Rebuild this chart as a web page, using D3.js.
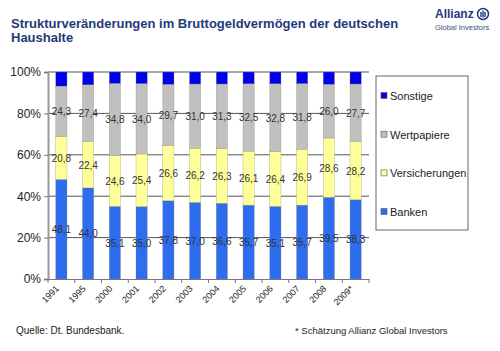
<!DOCTYPE html>
<html>
<head>
<meta charset="utf-8">
<script src="https://cdn.jsdelivr.net/npm/d3@7"></script>
<style>
  body { margin: 0; background: #fff; }
  svg { display: block; font-family: Arial, "Liberation Sans", sans-serif; }
</style>
</head>
<body>
<div id="chart"></div>
<script>
const years = ["1991", "1995", "2000", "2001", "2002", "2003", "2004", "2005", "2006", "2007", "2008", "2009*"];
const banken = [48.1, 44.0, 35.1, 35.0, 37.8, 37.0, 36.6, 35.7, 35.1, 35.7, 39.5, 38.3];
const versicherungen = [20.8, 22.4, 24.6, 25.4, 26.6, 26.2, 26.3, 26.1, 26.4, 26.9, 28.6, 28.2];
const wertpapiere = [24.3, 27.4, 34.8, 34.0, 29.7, 31.0, 31.3, 32.5, 32.8, 31.8, 26.0, 27.7];
const seriesNames = ["Banken", "Versicherungen", "Wertpapiere", "Sonstige"];
const yTicks = [0, 20, 40, 60, 80, 100];

const colors = {
  Banken: "#2e6cf0",
  Versicherungen: "#ffff99",
  Wertpapiere: "#c0c0c0",
  Sonstige: "#0000ee"
};

const rows = years.map((y, i) => ({
  year: y,
  Banken: banken[i],
  Versicherungen: versicherungen[i],
  Wertpapiere: wertpapiere[i],
  Sonstige: +(100 - banken[i] - versicherungen[i] - wertpapiere[i]).toFixed(1)
}));

const W = 500, H = 351;
const margin = { top: 72, right: 131, bottom: 72, left: 48 };
const width = W - margin.left - margin.right;
const height = H - margin.top - margin.bottom;

const root = d3.select("#chart").append("svg")
  .attr("width", W)
  .attr("height", H);

// title
const title = root.append("text")
  .attr("fill", "#1f3a7a")
  .style("font-size", "13px")
  .style("font-weight", "bold");
title.append("tspan").attr("x", 11).attr("y", 28).text("Strukturveränderungen im Bruttogeldvermögen der deutschen");
title.append("tspan").attr("x", 11).attr("y", 42).text("Haushalte");

// logo
root.append("text")
  .attr("x", 435).attr("y", 18)
  .attr("fill", "#1f3a7a")
  .style("font-size", "12px")
  .style("font-weight", "bold")
  .text("Allianz");
const logo = root.append("g").attr("transform", "translate(483,14)");
logo.append("circle").attr("r", 5.5).attr("fill", "none").attr("stroke", "#1f3a7a").attr("stroke-width", 1.5);
[-2, 0, 2].forEach((dx, i) => {
  logo.append("rect")
    .attr("x", dx - 0.7).attr("y", i === 1 ? -3.5 : -2)
    .attr("width", 1.4).attr("height", i === 1 ? 7 : 5)
    .attr("fill", "#1f3a7a");
});
root.append("text")
  .attr("x", 435).attr("y", 30)
  .attr("fill", "#3a4f80")
  .style("font-size", "7.5px")
  .text("Global Investors");

const svg = root.append("g")
  .attr("transform", `translate(${margin.left},${margin.top})`);

const x = d3.scaleBand()
  .domain(years)
  .range([0, width])
  .paddingInner(0.58)
  .paddingOuter(0.29);

const y = d3.scaleLinear()
  .domain([0, 100])
  .range([height, 0]);

// gridlines
svg.append("g")
  .selectAll("line")
  .data(yTicks.filter(t => t > 0))
  .join("line")
  .attr("x1", 0)
  .attr("x2", width)
  .attr("y1", d => y(d))
  .attr("y2", d => y(d))
  .attr("stroke", "#555")
  .attr("stroke-width", 1);

const stack = d3.stack().keys(seriesNames);
const layers = stack(rows);

const layer = svg.append("g")
  .selectAll("g")
  .data(layers)
  .join("g")
  .attr("fill", d => colors[d.key]);

layer.selectAll("rect")
  .data(d => d)
  .join("rect")
  .attr("x", d => x(d.data.year))
  .attr("width", x.bandwidth())
  .attr("y", d => y(d[1]))
  .attr("height", d => y(d[0]) - y(d[1]))
  .attr("stroke", "#8a8a60")
  .attr("stroke-width", 0.3);

// value labels (not for Sonstige)
layers.filter(l => l.key !== "Sonstige").forEach(l => {
  svg.append("g")
    .selectAll("text")
    .data(l)
    .join("text")
    .attr("x", d => x(d.data.year) + x.bandwidth() / 2)
    .attr("y", d => y((d[0] + d[1]) / 2) + 4)
    .attr("text-anchor", "middle")
    .attr("fill", "#333")
    .style("font-size", "10px")
    .text(d => d.data[l.key].toFixed(1).replace(".", ","));
});

// y axis
const yAxis = svg.append("g")
  .call(d3.axisLeft(y).tickValues(yTicks).tickSize(4).tickFormat(d => d + "%"));
yAxis.select(".domain").attr("stroke", "#999").attr("stroke-width", 2);
yAxis.selectAll(".tick line").attr("stroke", "#777");
yAxis.selectAll("text")
  .attr("x", -7)
  .style("font-size", "12px")
  .style("font-family", "Arial, 'Liberation Sans', sans-serif")
  .attr("fill", "#222");

// x axis
const xAxis = svg.append("g")
  .attr("transform", `translate(0,${height})`)
  .call(d3.axisBottom(x).tickSize(0));
xAxis.select(".domain").attr("stroke", "#777");
xAxis.selectAll("text")
  .attr("transform", "translate(-4,8) rotate(-45)")
  .attr("text-anchor", "end")
  .attr("dy", "0.35em")
  .attr("y", 0)
  .style("font-size", "9px")
  .style("font-family", "Arial, 'Liberation Sans', sans-serif")
  .attr("fill", "#222");
// ticks between categories
const step = x.step();
svg.append("g")
  .selectAll("line")
  .data(d3.range(years.length + 1))
  .join("line")
  .attr("x1", i => i * step)
  .attr("x2", i => i * step)
  .attr("y1", height)
  .attr("y2", height + 4)
  .attr("stroke", "#777");

// legend
const legend = root.append("g").attr("transform", "translate(376,76)");
legend.append("rect")
  .attr("width", 92)
  .attr("height", 154)
  .attr("fill", "#fff")
  .attr("stroke", "#666");
const legendOrder = ["Sonstige", "Wertpapiere", "Versicherungen", "Banken"];
const item = legend.selectAll("g.item")
  .data(legendOrder)
  .join("g")
  .attr("class", "item")
  .attr("transform", (d, i) => `translate(5,${20 + i * 38.7})`);
item.append("rect")
  .attr("x", 0).attr("y", -3.5)
  .attr("width", 6).attr("height", 6)
  .attr("fill", d => colors[d])
  .attr("stroke", "#555")
  .attr("stroke-width", 0.6);
item.append("text")
  .attr("x", 9)
  .attr("y", 4)
  .attr("fill", "#222")
  .style("font-size", "11px")
  .text(d => d);

// footer
root.append("text")
  .attr("x", 16).attr("y", 334)
  .attr("fill", "#222")
  .style("font-size", "10px")
  .text("Quelle: Dt. Bundesbank.");
root.append("text")
  .attr("x", 295).attr("y", 334)
  .attr("fill", "#222")
  .style("font-size", "9.5px")
  .text("* Schätzung Allianz Global Investors");
</script>
</body>
</html>
